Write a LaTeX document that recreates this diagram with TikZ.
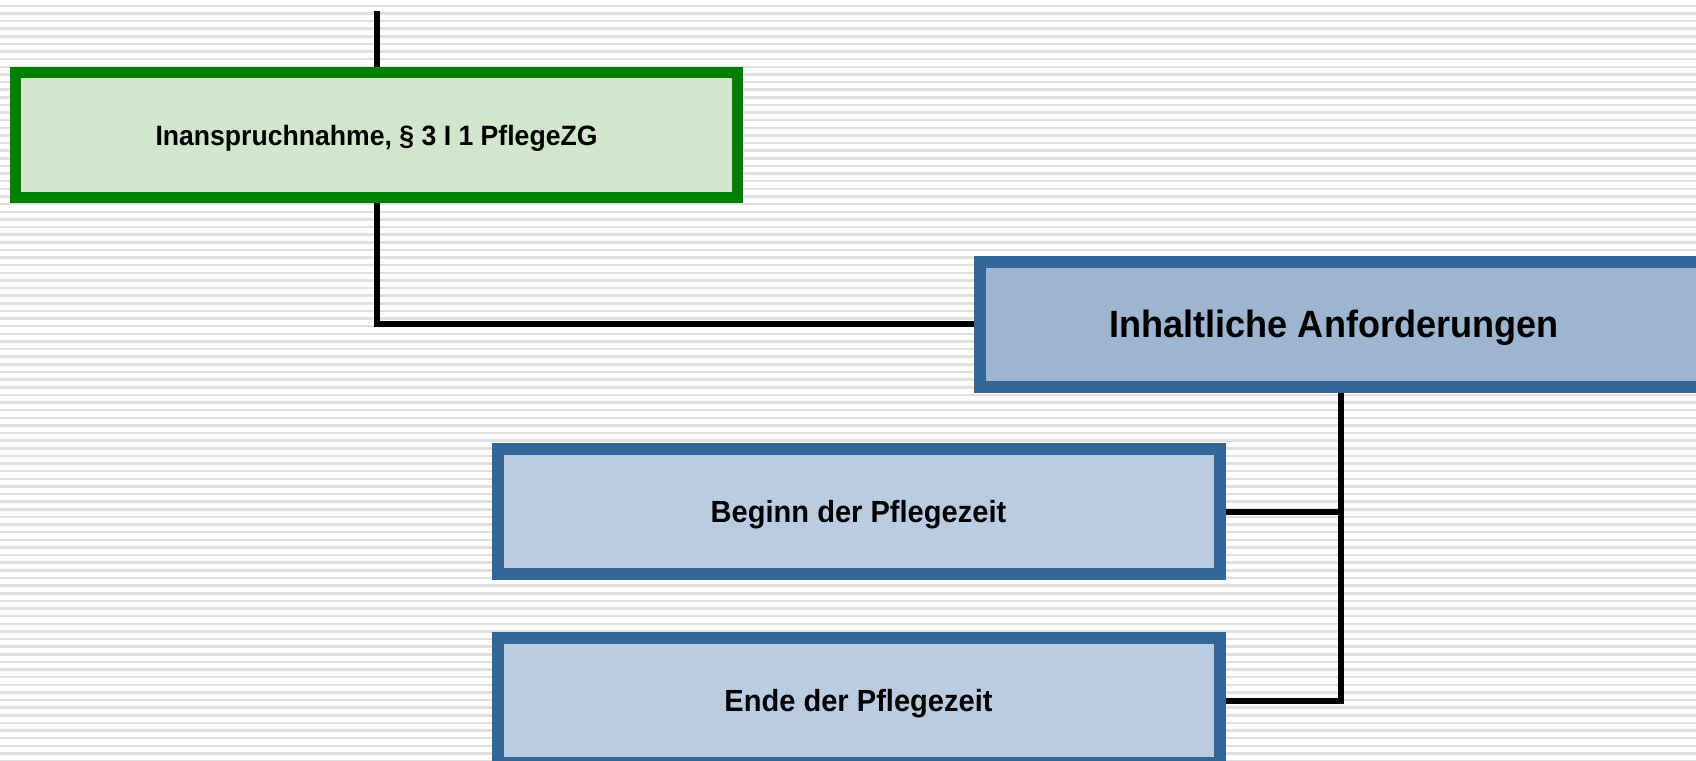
\documentclass[tikz,border=0pt]{standalone}
\usepackage{fontspec}
\setmainfont{Liberation Sans}[FakeStretch=0.95]
\usetikzlibrary{positioning}

\definecolor{boxgreen}{HTML}{008000}
\definecolor{fillgreen}{HTML}{D2E6CE}
\definecolor{boxblue}{HTML}{336699}
\definecolor{fillblue}{HTML}{9DB5D0}
\definecolor{filllight}{HTML}{BACCE2}
\definecolor{stripegray}{HTML}{E0E0E0}

\tikzset{
  box/.style={draw, line width=6pt, minimum width=361pt, minimum height=62.5pt,
    inner sep=0pt, text depth=0pt, font=\bfseries\fontsize{15.3}{17}\selectfont},
  greenbox/.style={box, draw=boxgreen, fill=fillgreen, line width=5.5pt,
    font=\bfseries\fontsize{14}{16}\selectfont},
  headbox/.style={box, draw=boxblue, fill=fillblue,
    font=\bfseries\fontsize{19}{22}\selectfont},
  subbox/.style={box, draw=boxblue, fill=filllight},
  wire/.style={line width=3pt, black},
}

\begin{document}
\begin{tikzpicture}[x=0.5pt, y=-0.5pt]
  % striped page
  \fill[white] (0,0) rectangle (1696,760);
  \useasboundingbox (0,0) rectangle (1696,760);
  \foreach \i in {0,...,99}
    \fill[stripegray] (0,{4.5+\i*7.63}) rectangle (1696,{7+\i*7.63});

  \node[greenbox] (inanspruch) at (376.5,135) {Inanspruchnahme, § 3 I 1 PflegeZG};
  \node[headbox] (inhalt) at (1341,324) {Inhaltliche Anforderungen\hspace*{7pt}};
  \node[subbox] (beginn) at (858.5,511.5) {Beginn der Pflegezeit};
  \node[subbox, below=26pt of beginn] (ende) {Ende der Pflegezeit};

  \coordinate (top) at (376.5,11);

  \draw[wire] (top) -- (inanspruch.north);
  \draw[wire] (inanspruch.south) |- (inhalt.west);
  \draw[wire] (inhalt.south) |- (ende.east);
  \draw[wire] (beginn.east) -- (beginn.east -| inhalt.south);
\end{tikzpicture}
\end{document}
